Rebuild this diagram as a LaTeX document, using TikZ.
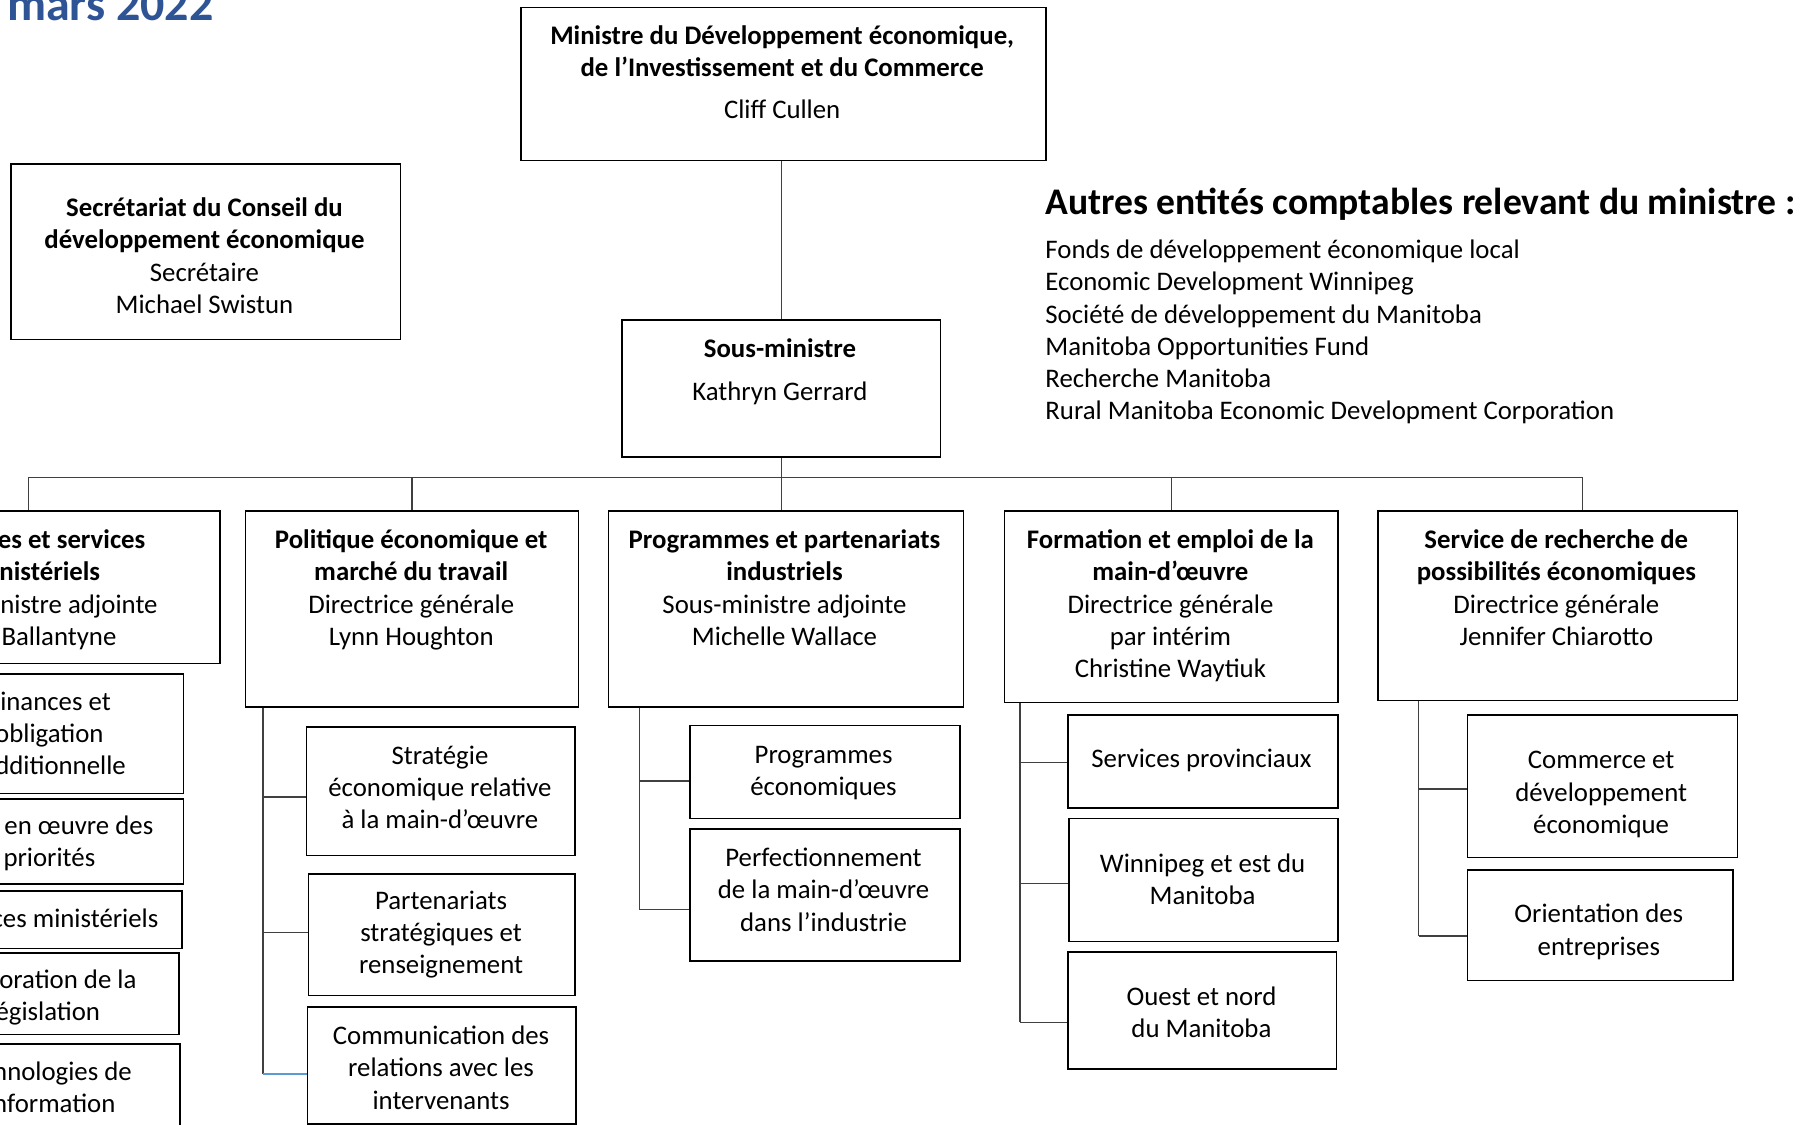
\documentclass[tikz,border=0pt]{standalone}
\usepackage{fontspec}
\setmainfont{Carlito}
\definecolor{titleblue}{RGB}{47,84,150}
\definecolor{tickblue}{RGB}{91,155,213}
\newcommand\boxfont{\fontsize{26.8}{32.3}\selectfont}
\newcommand\tc[1]{\begin{tabular}[t]{@{}c@{}}#1\end{tabular}}
\newcommand\tl[1]{\begin{tabular}[t]{@{}l@{}}#1\end{tabular}}
\newcommand\obox[5]{\node[box,minimum width={(#4-(#2))*1.1486pt},minimum height={(#5-(#3))*1.1486pt}] (#1) at (#2,#3) {};}
\begin{document}
\begin{tikzpicture}[x=1.1486pt,y=-1.1486pt,
  box/.style={draw=black,line width=1.6pt,rectangle,inner sep=0pt,anchor=north west},
  txt/.style={anchor=base,font=\boxfont,inner sep=0pt,yshift=-1.7pt},
  lst/.style={anchor=base west,font=\boxfont,inner sep=0pt,yshift=-1.2pt},
  conn/.style={draw=black!75,line width=1.3pt}]
\useasboundingbox (0,0) rectangle (1568,979);
% title
\node[anchor=base west,inner sep=0pt,font=\fontsize{48}{56}\selectfont\bfseries,text=titleblue] (title) at (6,17.5) {mars 2022};
% boxes
\obox{min}{453}{6}{910}{139}
\obox{sec}{9}{142}{348}{295}
\obox{sm}{541}{278}{818}{397}
\obox{A}{-141}{444}{191}{577}
\obox{B}{213}{444}{503}{615}
\obox{C}{529}{444}{838}{615}
\obox{D}{874}{444}{1164}{611}
\obox{E}{1199}{444}{1512}{609}
\obox{A1}{-73}{586}{159}{690}
\obox{A2}{-71}{695}{159}{769}
\obox{A3}{-72}{775}{158}{825}
\obox{A4}{-75}{829}{155}{900}
\obox{A5}{-76}{908}{156}{990}
\obox{B1}{266}{632}{500}{744}
\obox{B2}{268}{760}{500}{866}
\obox{B3}{267}{876}{501}{978}
\obox{C1}{600}{631}{835}{712}
\obox{C2}{600}{721}{835}{836}
\obox{D1}{929}{622}{1164}{703}
\obox{D2}{930}{712}{1164}{819}
\obox{D3}{929}{828}{1163}{930}
\obox{E1}{1277}{622}{1512}{746}
\obox{E2}{1277}{757}{1508}{853}
% texts
\node[txt] (tmin) at (681,37) {\tc{\textbf{Ministre du Développement économique,}\\\textbf{de l’Investissement et du Commerce}\\[10pt]Cliff Cullen}};
\node[txt] (tsec) at (178,187) {\tc{\textbf{Secrétariat du Conseil du}\\\textbf{développement économique}\\Secrétaire\\Michael Swistun}};
\node[txt] (tsm) at (679,310) {\tc{\textbf{Sous-ministre}\\[10pt]Kathryn Gerrard}};
\node[txt] (tA) at (31,476) {\tc{\textbf{Finances et services}\\\textbf{ministériels}\\Sous-ministre adjointe\\Lisa Ballantyne}};
\node[txt] (tB) at (358,476) {\tc{\textbf{Politique économique et}\\\textbf{marché du travail}\\Directrice générale\\Lynn Houghton}};
\node[txt] (tC) at (683,476) {\tc{\textbf{Programmes et partenariats}\\\textbf{industriels}\\Sous-ministre adjointe\\Michelle Wallace}};
\node[txt] (tD) at (1019,476) {\tc{\textbf{Formation et emploi de la}\\\textbf{main-d’œuvre}\\Directrice générale\\par intérim\\Christine Waytiuk}};
\node[txt] (tE) at (1355,476) {\tc{\textbf{Service de recherche de}\\\textbf{possibilités économiques}\\Directrice générale\\Jennifer Chiarotto}};
\node[txt] (tA1) at (43,617) {\tc{Finances et\\obligation\\redditionnelle}};
\node[txt] (tA2) at (43,725) {\tc{Mise en œuvre des\\priorités}};
\node[txt] (tA3) at (42,806) {\tc{Services ministériels}};
\node[txt] (tA4) at (39,859) {\tc{Élaboration de la\\législation}};
\node[txt] (tA5) at (39,939) {\tc{Technologies de\\l’information}};
\node[txt] (tB1) at (383,664) {\tc{Stratégie\\économique relative\\à la main-d’œuvre}};
\node[txt] (tB2) at (384,790) {\tc{Partenariats\\stratégiques et\\renseignement}};
\node[txt] (tB3) at (384,908) {\tc{Communication des\\relations avec les\\intervenants}};
\node[txt] (tC1) at (717,663) {\tc{Programmes\\économiques}};
\node[txt] (tC2) at (717,753) {\tc{Perfectionnement\\de la main-d’œuvre\\dans l’industrie}};
\node[txt] (tD1) at (1046,667) {\tc{Services provinciaux}};
\node[txt] (tD2) at (1047,758) {\tc{Winnipeg et est du\\Manitoba}};
\node[txt] (tD3) at (1046,874) {\tc{Ouest et nord\\du Manitoba}};
\node[txt] (tE1) at (1394,668) {\tc{Commerce et\\développement\\économique}};
\node[txt] (tE2) at (1392,802) {\tc{Orientation des\\entreprises}};
% other entities
\node[anchor=base west,inner sep=0pt,font=\fontsize{37.6}{42}\selectfont\bfseries] (head) at (910,187) {Autres entités comptables relevant du ministre :};
\node[lst] (list) at (910,224) {\tl{Fonds de développement économique local\\Economic Development Winnipeg\\Société de développement du Manitoba\\Manitoba Opportunities Fund\\Recherche Manitoba\\Rural Manitoba Economic Development Corporation}};
% connectors
\coordinate (barL) at (25,416);
\coordinate (barR) at (1378,416);
\draw[conn] (sm.north) -- (sm.north |- min.south);
\draw[conn] (sm.south) -- (sm.south |- C.north);
\draw[conn] (barL |- A.north) -- (barL) -- (barR) -- (barR |- E.north);
\draw[conn] (B.north) -- (B.north |- barL);
\draw[conn] (D.north) -- (D.north |- barL);
% B children
\coordinate (tkB1) at (229,694);
\coordinate (tkB2) at (229,812);
\coordinate (tkB3) at (229,935);
\draw[conn] (tkB1 |- B.south) -- (tkB3);
\draw[conn] (tkB1) -- (tkB1 -| B1.west);
\draw[conn] (tkB2) -- (tkB2 -| B2.west);
\draw[conn,draw=tickblue] (tkB3) -- (tkB3 -| B3.west);
% C children
\coordinate (tkC1) at (557,680);
\coordinate (tkC2) at (557,792);
\draw[conn] (tkC1 |- C.south) -- (tkC2);
\draw[conn] (tkC1) -- (tkC1 -| C1.west);
\draw[conn] (tkC2) -- (tkC2 -| C2.west);
% D children
\coordinate (tkD1) at (888,664);
\coordinate (tkD2) at (888,769);
\coordinate (tkD3) at (888,890);
\draw[conn] (tkD1 |- D.south) -- (tkD3);
\draw[conn] (tkD1) -- (tkD1 -| D1.west);
\draw[conn] (tkD2) -- (tkD2 -| D2.west);
\draw[conn] (tkD3) -- (tkD3 -| D3.west);
% E children
\coordinate (tkE1) at (1235,687);
\coordinate (tkE2) at (1235,815);
\draw[conn] (tkE1 |- E.south) -- (tkE2);
\draw[conn] (tkE1) -- (tkE1 -| E1.west);
\draw[conn] (tkE2) -- (tkE2 -| E2.west);
\end{tikzpicture}
\end{document}
